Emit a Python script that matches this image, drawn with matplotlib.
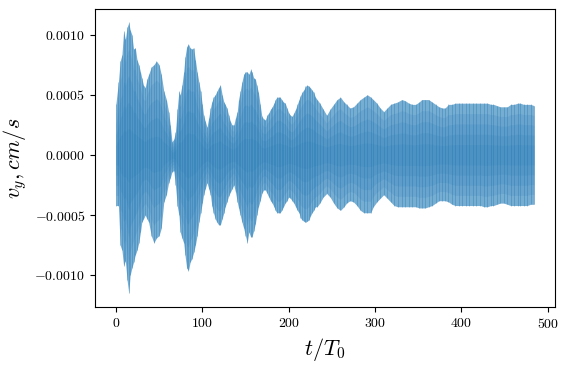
import numpy as np
import matplotlib
matplotlib.use("Agg")
import matplotlib.pyplot as plt

plt.rcParams["font.family"] = "serif"
plt.rcParams["font.serif"] = ["cmr10"]
plt.rcParams["mathtext.fontset"] = "cm"
plt.rcParams["axes.formatter.use_mathtext"] = True

# envelope of v_y, units of 1e-4 cm/s
t = [0, 3, 5, 7, 9, 11, 13, 15, 16.5, 18.5, 20.5, 22.5, 24.5, 26.5, 28.5, 30, 32, 34, 36, 38,
     41, 44, 47, 50, 52.5, 55.5, 58.5, 61, 63, 65, 67, 69, 71, 73, 74.5, 76.5, 78.5, 80, 82, 84,
     86, 88, 90, 92, 94, 96, 98, 100, 101.5, 103.5, 105.5, 107.5, 109.5, 111, 113, 115, 117, 119, 121, 123,
     125, 126.5, 128.5, 130.5, 132.5, 134.5, 136.5, 138.5, 140.5, 142, 144, 146, 148, 150, 152, 154, 156, 157.5, 159.5, 161.5,
     163, 165, 167, 169, 171, 173, 175, 177, 179, 181, 183, 184.5, 186.5, 188.5, 190, 192, 194, 196, 198, 200,
     202, 204, 206, 208, 210, 212, 213.5, 215.5, 217.5, 219.5, 221.5, 223.5, 225, 227, 229, 231, 233, 236, 240, 244,
     248, 252, 256, 260, 264, 267, 271, 275, 279, 283, 287, 291, 295, 298, 302, 306, 310, 314, 318, 322,
     326, 331, 335, 339, 343, 347, 351, 354, 358, 362, 366, 370, 374, 378, 381, 385, 389, 393, 397, 401,
     405, 409, 413, 417, 422, 426, 430, 434, 437, 441, 445, 449, 453, 457, 461, 465, 468, 472, 476, 480, 484]
upper = [4.2, 6.1, 7.8, 8.3, 10.3, 9.6, 10.6, 11.0, 10.4, 10.0, 8.8, 8.9, 7.9, 7.5, 6.9, 6.4, 5.8, 5.6, 6.3, 6.7,
         7.3, 7.5, 7.8, 7.5, 6.7, 5.3, 4.6, 3.6, 2.5, 1.1, 1.3, 1.9, 3.8, 5.3, 5.0, 5.8, 6.9, 8.1, 9.0, 9.2,
         8.9, 8.8, 8.9, 7.9, 6.9, 6.1, 5.3, 4.2, 3.3, 2.8, 2.3, 3.1, 3.9, 4.4, 4.8, 5.0, 5.3, 5.6, 5.8, 5.0,
         4.4, 4.2, 3.9, 3.3, 2.8, 2.5, 2.5, 3.1, 3.6, 4.6, 5.3, 6.1, 6.7, 6.9, 6.9, 6.7, 7.1, 6.9, 6.4, 6.3,
         5.8, 5.2, 4.2, 3.2, 3.0, 2.9, 3.3, 3.5, 3.8, 4.0, 4.3, 4.6, 4.8, 4.8, 4.8, 4.6, 4.4, 4.3, 3.9, 3.5,
         3.3, 3.2, 3.5, 3.8, 4.2, 4.6, 4.9, 5.2, 5.4, 5.7, 5.8, 5.7, 5.6, 5.4, 5.2, 4.8, 4.6, 4.3, 3.8, 3.3,
         3.8, 4.2, 4.6, 4.8, 4.4, 4.2, 3.9, 4.0, 4.3, 4.6, 4.8, 5.0, 4.8, 4.6, 4.3, 3.9, 3.6, 3.9, 4.2, 4.3,
         4.4, 4.6, 4.5, 4.3, 4.2, 4.2, 4.4, 4.6, 4.6, 4.6, 4.4, 4.2, 4.0, 3.9, 3.9, 4.2, 4.2, 4.3, 4.3, 4.3,
         4.3, 4.3, 4.3, 4.3, 4.3, 4.3, 4.3, 4.2, 4.2, 4.1, 4.0, 4.0, 4.0, 4.2, 4.2, 4.3, 4.3, 4.2, 4.2, 4.2, 4.1]
lower = [-4.2, -4.2, -7.5, -7.9, -9.2, -8.8, -10.4, -11.5, -10.0, -9.4, -8.9, -8.3, -7.9, -7.3, -6.4, -5.6, -5.3, -5.0, -5.3, -5.6,
         -6.7, -7.3, -6.9, -6.7, -6.1, -3.9, -3.3, -2.3, -1.9, -1.4, -1.3, -2.5, -4.2, -5.0, -6.4, -6.9, -7.3, -8.3, -9.4, -9.6,
         -8.9, -8.6, -8.1, -7.5, -6.7, -5.6, -4.8, -4.0, -3.3, -2.8, -2.3, -2.8, -3.3, -4.2, -4.8, -5.3, -5.6, -5.8, -5.8, -5.3,
         -4.8, -4.3, -3.9, -3.4, -3.1, -2.8, -2.5, -3.1, -3.9, -4.4, -5.0, -5.6, -6.1, -6.7, -7.3, -6.4, -6.8, -6.8, -6.3, -5.7,
         -5.0, -4.3, -3.8, -3.2, -2.9, -2.9, -3.2, -3.5, -3.8, -4.0, -4.3, -4.6, -4.8, -4.8, -4.8, -4.6, -4.3, -4.0, -3.8, -3.5,
         -3.6, -3.8, -4.0, -4.3, -4.6, -4.8, -5.2, -5.4, -5.5, -5.6, -5.5, -5.4, -5.1, -4.8, -4.6, -4.3, -4.3, -4.0, -3.5, -3.2,
         -3.5, -4.0, -4.4, -4.6, -4.3, -4.0, -3.8, -3.9, -4.2, -4.6, -4.8, -4.8, -4.8, -4.3, -3.9, -3.6, -3.3, -3.6, -3.9, -4.2,
         -4.3, -4.3, -4.3, -4.3, -4.3, -4.3, -4.4, -4.4, -4.4, -4.3, -4.2, -4.0, -3.8, -3.8, -3.8, -3.9, -4.1, -4.2, -4.2, -4.2,
         -4.2, -4.2, -4.2, -4.2, -4.2, -4.3, -4.3, -4.2, -4.2, -4.1, -4.0, -4.0, -4.1, -4.2, -4.2, -4.2, -4.2, -4.2, -4.2, -4.1, -4.1]

t = np.array(t)
up = np.array(upper) * 1e-4
lo = np.array(lower) * 1e-4

fig, ax = plt.subplots(figsize=(5.86, 3.73), dpi=100)
fig.subplots_adjust(left=0.162, right=0.947, top=0.976, bottom=0.177)

ax.fill_between(t, lo, up, color="C0", alpha=0.6, lw=0)
# darker core, like the dense crossings of the signal near zero
for f in [0.8, 0.6, 0.4, 0.2]:
    ax.fill_between(t, f * lo, f * up, color="C0", alpha=0.15, lw=0)
ax.vlines(t, lo, up, color="C0", lw=0.5, alpha=0.5)

ax.set_xlabel(r"$t/T_0$", fontsize=16)
ax.set_ylabel(r"$v_y, cm/s$", fontsize=16)
ax.set_xticks([0, 100, 200, 300, 400, 500])
ax.set_yticks([-0.0010, -0.0005, 0.0, 0.0005, 0.0010])
ax.tick_params(labelsize=10)

fig.savefig("out.png", dpi=100)
